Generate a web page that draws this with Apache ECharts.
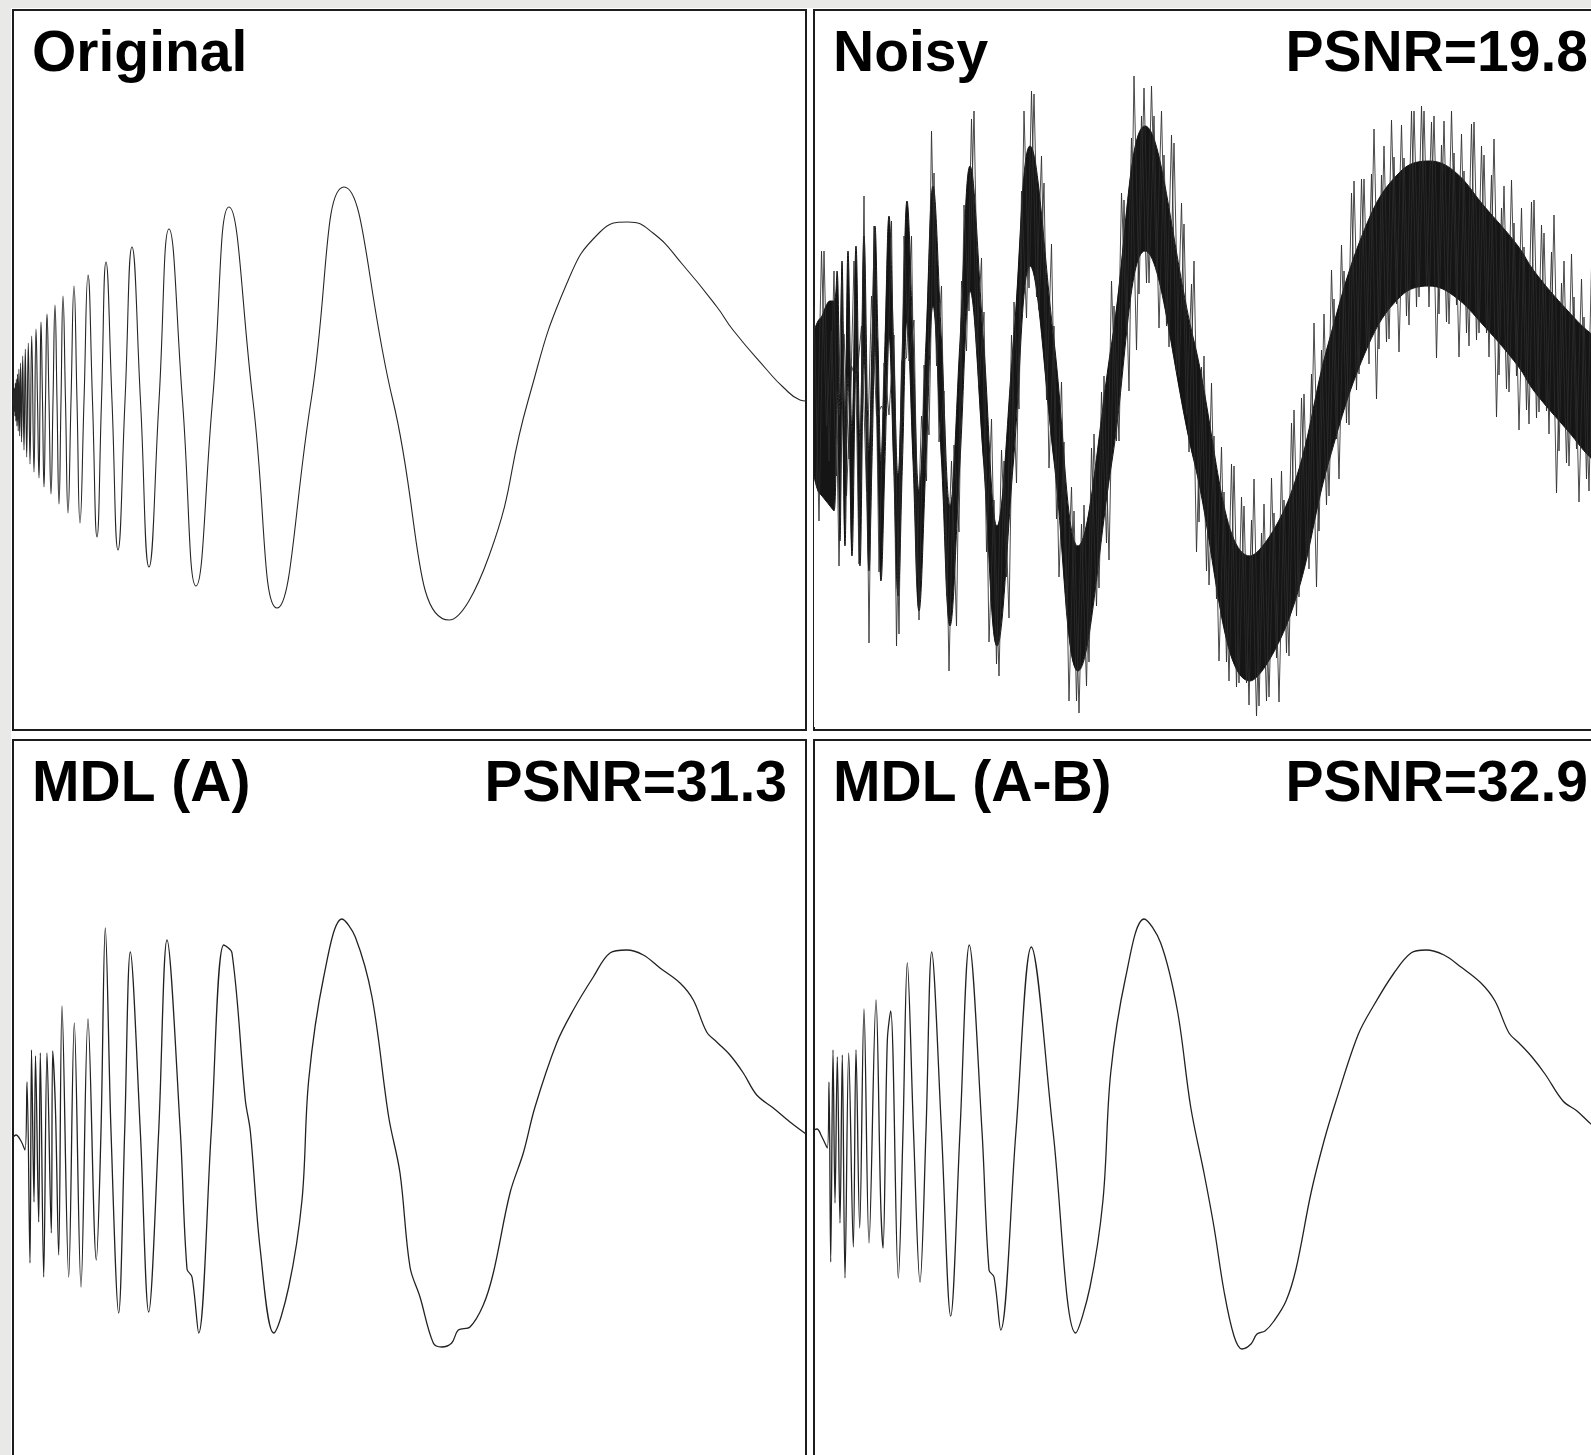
<!DOCTYPE html>
<html>
<head>
<meta charset="utf-8">
<script src="https://cdn.jsdelivr.net/npm/echarts@6/dist/echarts.min.js"></script>
<style>
html, body { margin: 0; padding: 0; background: #e9e9e7; }
#paper { position: absolute; left: 11px; top: 8px; right: 0; bottom: 0; background: #fff; }
#chart { position: absolute; left: 0; top: 0; width: 1591px; height: 1455px; }
</style>
</head>
<body>
<div id="paper"></div>
<div id="chart"></div>
<script>
// signal position (0..793 along the panel) and amplitude
var originalPts = [
  [0,0],[0.5,-5],[0.8,8],[1.1,-10],[1.5,13],[1.9,-15],[2.3,18],[2.8,-20],[3.3,22],[3.9,-25],
  [4.5,27],[5.2,-30],[5.9,32],[6.7,-35],[7.6,38],[8.6,-41],[9.7,45],[11,-49],[12.3,52],[13.7,-56],
  [15.3,58],[17,-63],[18.7,65],[21,-71],[23,72],[24.5,0],[26,-77],[27,0],[28,79],[29.5,0],
  [31,-86],[32.5,0],[34,87],[36,0],[38,-93],[40,0],[42,96],[44,0],[46,-103],[48,0],
  [50,105],[52.5,0],[55,-112],[58,0],[61,115],[64,0],[67,-122],[71,0],[75,126],[79.5,0],
  [84,-136],[88.5,0],[93,139],[99,0],[105,-149],[112,0],[119,154],[127.5,0],[136,-166],[146,0],
  [156,172],[169.5,0],[183,-185],[199.5,0],[216,194],[240,0],[264,-207],[298,0],[331,214],[380,0],
  [436,-219],[476,-155],[515,0],[554,118],[587,169],[615,179],[640,168],[670,136],[704,94],[720,71],
  [754,31],[770,14],[787,1],[793,0]
];

// dense core of the noisy band: position, lower edge, upper edge
var noisyCore = [
  [0,-75,70],[4,-90,80],[8,-95,85],[12,-100,95],[16,-105,100],[20,-110,100],[23,10,130],[26,-140,-15],
  [28,15,140],[31,-145,-25],[34,25,150],[38,-155,-30],[42,35,155],[46,-165,-40],[50,45,165],[55,-170,-50],
  [58,-60,60],[61,55,175],[64,-60,60],[67,-180,-60],[71,-60,60],[75,65,185],[79.5,-60,60],[84,-195,-75],
  [88.5,-60,60],[93,80,200],[99,-60,60],[105,-210,-90],[112,-60,60],[119,95,215],[127.5,-60,60],[136,-225,-105],
  [146,-60,60],[156,110,235],[169.5,-60,60],[183,-245,-125],[199.5,-60,60],[216,135,255],[240,-60,60],[264,-270,-145],
  [298,-60,60],[331,150,275],[380,-60,60],[436,-280,-155],[476,-215,-95],[515,-60,60],[554,55,180],[587,105,230],
  [615,115,240],[640,105,230],[670,75,195],[704,35,155],[720,10,130],[754,-30,90],[780,-60,65],[793,-65,60]
];

// tips of the noise spikes (two interleaved runs)
var noisySpikes = [
  [0,95],[5,-120],[10,150],[15,-60],[20,130],[25,-165],[30,67],[35,-58],[40,140],[45,-163],
  [50,205],[55,-242],[60,175],[65,-171],[70,38],[75,-14],[80,66],[85,-233],[90,165],[95,40],
  [100,81],[105,-219],[110,36],[115,-34],[120,228],[125,-41],[130,10],[135,-270],[140,-44],[145,-131],
  [150,196],[155,90],[160,290],[165,16],[170,89],[175,-241],[180,-99],[185,-275],[190,-60],[195,-217],
  [200,99],[205,-8],[210,290],[215,113],[220,307],[225,91],[230,218],[235,-67],[240,75],[245,-176],
  [250,-41],[255,-300],[260,-110],[265,-312],[270,-104],[275,-261],[280,-33],[285,-187],[290,25],[295,-159],
  [300,95],[305,-40],[310,201],[315,10],[320,325],[325,107],[330,313],[335,118],[340,285],[345,73],
  [350,246],[355,54],[360,258],[365,24],[370,177],[375,-51],[380,140],[385,-121],[390,45],[395,-184],
  [400,-35],[405,-260],[410,-91],[415,-280],[420,-65],[425,-282],[430,-105],[435,-304],[440,-78],[445,-305],
  [450,-103],[455,-296],[460,-112],[465,-301],[470,-99],[475,-255],[480,-9],[485,-196],[490,7],[495,-168],
  [500,78],[505,-130],[510,87],[515,-95],[520,102],[525,-78],[530,130],[535,-24],[540,220],[545,27],
  [550,222],[555,37],[560,272],[565,52],[570,255],[575,62],[580,244],[585,49],[590,243],[595,76],
  [600,290],[605,104],[610,290],[615,94],[620,285],[625,87],[630,280],[635,77],[640,248],[645,44],
  [650,230],[655,55],[660,279],[665,68],[670,246],[675,44],[680,262],[685,26],[690,215],[695,9],
  [700,178],[705,-29],[710,154],[715,-23],[720,201],[725,-11],[730,168],[735,-33],[740,186],[745,-50],
  [750,140],[755,-65],[760,104],[765,-101],[770,84],[775,-90],[780,137]
];
var noisySpikesB = [
  [2.5,-85],[7.5,150],[12.5,-25],[17.5,70],[22.5,-75],[27.5,120],[32.5,-95],[37.5,35],[42.5,20],[47.5,75],
  [52.5,-90],[57.5,105],[62.5,-15],[67.5,-5],[72.5,-15],[77.5,180],[82.5,-245],[87.5,40],[92.5,43],[97.5,165],
  [102.5,-180],[107.5,-15],[112.5,-80],[117.5,270],[122.5,35],[127.5,115],[132.5,-195],[137.5,-60],[142.5,-225],[147.5,120],
  [152.5,50],[157.5,282],[162.5,50],[167.5,143],[172.5,-151],[177.5,-18],[182.5,-263],[187.5,-49],[192.5,-176],[197.5,66],
  [202.5,-82],[207.5,210],[212.5,83],[217.5,310],[222.5,104],[227.5,245],[232.5,1],[237.5,157],[242.5,-118],[247.5,19],
  [252.5,-214],[257.5,-86],[262.5,-300],[267.5,-123],[272.5,-285],[277.5,-47],[282.5,-205],[287.5,9],[292.5,-142],[297.5,120],
  [302.5,-40],[307.5,208],[312.5,68],[317.5,263],[322.5,51],[327.5,285],[332.5,118],[337.5,315],[342.5,129],[347.5,290],
  [352.5,75],[357.5,266],[362.5,29],[367.5,198],[372.5,-14],[377.5,117],[382.5,-151],[387.5,34],[392.5,-170],[397.5,18],
  [402.5,-198],[407.5,-46],[412.5,-261],[417.5,-63],[422.5,-286],[427.5,-96],[432.5,-282],[437.5,-119],[442.5,-315],[447.5,-132],
  [452.5,-300],[457.5,-77],[462.5,-257],[467.5,-70],[472.5,-252],[477.5,-22],[482.5,-215],[487.5,3],[492.5,-158],[497.5,27],
  [502.5,-186],[507.5,51],[512.5,-104],[517.5,131],[522.5,-38],[527.5,156],[532.5,-22],[537.5,208],[542.5,11],[547.5,222],
  [552.5,52],[557.5,227],[562.5,2],[567.5,226],[572.5,59],[577.5,281],[582.5,97],[587.5,276],[592.5,85],[597.5,290],
  [602.5,94],[607.5,295],[612.5,115],[617.5,279],[622.5,43],[627.5,256],[632.5,79],[637.5,290],[642.5,96],[647.5,267],
  [652.5,68],[657.5,277],[662.5,61],[667.5,255],[672.5,68],[677.5,226],[682.5,-16],[687.5,193],[692.5,12],[697.5,221],
  [702.5,25],[707.5,193],[712.5,-9],[717.5,199],[722.5,-17],[727.5,176],[732.5,-10],[737.5,149],[742.5,-92],[747.5,118],
  [752.5,-62],[757.5,147],[762.5,-48],[767.5,122],[772.5,-78],[777.5,134]
];

var mdlAPts = [
  [0,-6],[3,-4],[8,-10],[12,-19],[14,49],[17,-132],[18.5,81],[21,-71],[22.5,75],[25.7,-91],
  [27.3,78],[30.7,-146],[34,78],[38.3,-102],[39.7,80],[42.5,20],[45.7,-124],[49,125],[55.7,-146],[61.3,108],
  [68,-156],[75,112],[83.3,-129],[88,0],[92.3,203],[98,0],[105.7,-182],[111.7,0],[117.3,179],[127.3,0],
  [135.7,-181],[145.7,0],[154,191],[167.3,0],[174,-138],[179,-146],[185.7,-202],[198.3,0],[210.7,186],[219,178],
  [232.3,31],[237.3,0],[247.3,-119],[260.7,-202],[275.7,-156],[289,-69],[295.7,51],[310.7,154],[329,212],[342.3,194],
  [359,134],[375.7,14],[387,-42],[397,-136],[407,-166],[420.3,-212],[428.7,-216],[438.7,-212],[445.3,-199],[457,-196],
  [470.3,-174],[480.3,-142],[497,-62],[510.3,-22],[522,24],[543.7,88],[560.3,121],[580.3,154],[597,178],[613.7,181],
  [630.3,176],[647,163],[667,148],[680.3,131],[693.7,99],[703.7,89],[717,76],[730.3,58],[743.7,36],[760.3,23],
  [777,9],[793,-3]
];

var mdlABPts = [
  [0,1],[3,2],[8,-6],[13.3,-17],[15,49],[16.7,-131],[19,81],[21,-72],[23.3,74],[26,-92],
  [28.3,76],[31,-147],[34.7,78],[39.3,-116],[42,81],[45.7,-97],[50,122],[55,-112],[62,131],[66.7,-72],
  [69,-117],[73.3,90],[76.7,120],[84.3,-147],[89,0],[93.3,168],[99.5,0],[106,-151],[112,0],[117.7,179],
  [127.5,0],[136.7,-185],[146,0],[155.3,186],[168,0],[175,-139],[180,-146],[186.7,-199],[202,0],[217.3,184],
  [239,0],[261.7,-202],[276,-156],[289,-69],[296.7,58],[311.7,154],[330,212],[346.7,188],[363.3,121],[376.7,24],
  [390,-42],[400,-96],[410,-160],[420,-205],[428,-218],[437,-213],[443,-203],[451,-200],[460,-190],[472,-170],
  [482,-138],[497,-62],[510,-10],[522,30],[544,96],[560,126],[580,158],[597,178],[612,181],[630,176],
  [647,164],[667,148],[681,130],[695,98],[705,88],[718,74],[731,57],[749,30],[763,20],[777,7],
  [793,-4]
];

var panelTitles = ['Original', 'Noisy', 'MDL (A)', 'MDL (A-B)'];
var psnrLabels = ['', 'PSNR=19.8', 'PSNR=31.3', 'PSNR=32.9'];

var panelLeft = [13, 814, 13, 814];
var panelTop = [10, 10, 740, 740];
var panelW = 793, panelH = 720;
var titleFont = '"Liberation Sans", Arial, Helvetica, sans-serif';

var chart = echarts.init(document.getElementById('chart'));

var grids = [], xAxes = [], yAxes = [], texts = [];
for (var i = 0; i < 4; i++) {
    grids.push({
        left: panelLeft[i], top: panelTop[i], width: panelW, height: panelH,
        outerBoundsMode: 'none',
        show: true, borderColor: '#1c1c1c', borderWidth: 2, backgroundColor: '#fff'
    });
    xAxes.push({ type: 'value', gridIndex: i, min: 0, max: 793, show: false });
    yAxes.push({ type: 'value', gridIndex: i, min: -329, max: 391, show: false });

    texts.push({
        type: 'text', z: 100,
        style: {
            text: panelTitles[i], x: panelLeft[i] + 19, y: panelTop[i] + 45,
            fill: '#000', fontSize: 57, fontWeight: 'bold', fontFamily: titleFont,
            align: 'left', verticalAlign: 'middle'
        }
    });
    if (psnrLabels[i]) {
        texts.push({
            type: 'text', z: 100,
            style: {
                text: psnrLabels[i], x: panelLeft[i] + 774, y: panelTop[i] + 45,
                fill: '#000', fontSize: 57, fontWeight: 'bold', fontFamily: titleFont,
                align: 'right', verticalAlign: 'middle'
            }
        });
    }
}

var coreHigh = noisyCore.map(function (d) { return [d[0], d[2]]; });
var coreLow = noisyCore.map(function (d) { return [d[0], d[1]]; });

var option = {
    animation: false,
    backgroundColor: 'transparent',
    grid: grids,
    xAxis: xAxes,
    yAxis: yAxes,
    graphic: texts,
    series: [
        {
            name: 'Original', type: 'line', xAxisIndex: 0, yAxisIndex: 0,
            data: originalPts, showSymbol: false, smooth: 0.5,
            lineStyle: { color: '#262626', width: 1.1 }
        },
        {
            // upper edge of the noise band, filled black downwards
            name: 'Noisy', type: 'line', xAxisIndex: 1, yAxisIndex: 1,
            data: coreHigh, showSymbol: false, smooth: 0.4,
            lineStyle: { color: '#151515', width: 1 },
            areaStyle: { color: '#151515', opacity: 1, origin: -326 }
        },
        {
            // lower edge, white below it so only the band stays black
            name: 'noisyLow', type: 'line', xAxisIndex: 1, yAxisIndex: 1,
            data: coreLow, showSymbol: false, smooth: 0.4,
            lineStyle: { color: '#151515', width: 1 },
            areaStyle: { color: '#ffffff', opacity: 1, origin: -326 }
        },
        {
            name: 'spikes', type: 'line', xAxisIndex: 1, yAxisIndex: 1,
            data: noisySpikes, showSymbol: false,
            lineStyle: { color: '#2b2b2b', width: 1, opacity: 0.85 }
        },
        {
            name: 'spikesB', type: 'line', xAxisIndex: 1, yAxisIndex: 1,
            data: noisySpikesB, showSymbol: false,
            lineStyle: { color: '#2b2b2b', width: 1, opacity: 0.85 }
        },
        {
            name: 'MDL (A)', type: 'line', xAxisIndex: 2, yAxisIndex: 2,
            data: mdlAPts, showSymbol: false, smooth: 0.35,
            lineStyle: { color: '#222', width: 1.3 }
        },
        {
            name: 'MDL (A-B)', type: 'line', xAxisIndex: 3, yAxisIndex: 3,
            data: mdlABPts, showSymbol: false, smooth: 0.35,
            lineStyle: { color: '#222', width: 1.3 }
        }
    ]
};

chart.setOption(option);
</script>
</body>
</html>
